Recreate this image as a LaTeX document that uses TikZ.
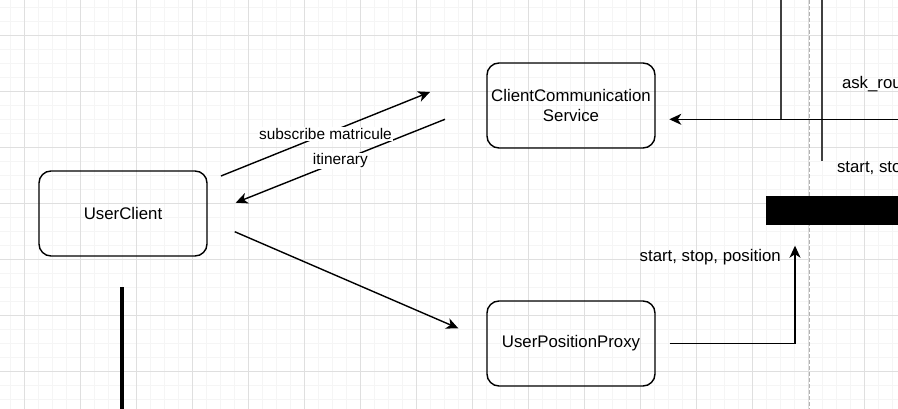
\documentclass[tikz,border=0pt]{standalone}
\usepackage{fontspec}
\setmainfont{Liberation Sans}
\usepackage{xcolor}
\usetikzlibrary{arrows.meta}
\usetikzlibrary{calc}
\usetikzlibrary{positioning}

\begin{document}
\begin{tikzpicture}[x=1pt,y=-1pt,-,node distance=238pt,semithick,>={Stealth[length=12pt,width=11pt,inset=3.5pt]}]
	\tikzstyle{box}=[draw, rounded corners=12pt, line width=1.4pt, minimum width=168pt, minimum height=85pt, align=center, font=\fontsize{16.8}{20.5}\selectfont]
	\tikzstyle{conn}=[->, line width=1.4pt]
	\tikzstyle{lbl}=[fill=white, inner sep=1pt, font=\fontsize{15.4}{18}\selectfont]
	\tikzstyle{txt}=[inner sep=0pt, font=\fontsize{16.8}{20}\selectfont]
	\tikzstyle{life}=[draw=black!75, line width=1.4pt]
	\useasboundingbox (0,0) rectangle (898,409);
	\clip (0,0) rectangle (898,409);
	% grid
	\foreach \x in {10.3,24.3,...,898}{
		\draw[gray!8, line width=0.9pt] (\x,0) -- (\x,409);
	}
	\foreach \y in {7,21,...,409}{
		\draw[gray!8, line width=0.9pt] (0,\y) -- (898,\y);
	}
	\foreach \x in {24.3,80.3,...,898}{
		\draw[gray!25, line width=0.9pt] (\x,0) -- (\x,409);
	}
	\foreach \y in {35,91,...,409}{
		\draw[gray!25, line width=0.9pt] (0,\y) -- (898,\y);
	}
	\draw[gray!60, line width=1pt, dash pattern=on 4pt off 2pt] (809,0) -- (809,409);

	\node[box] (UC) at (123,213.5) {UserClient};
	\node[box] (CCS) at (571,105.5) {ClientCommunication\\Service};
	\node[box] (UPP) [below of=CCS] {UserPositionProxy};
	\node[fill=black, inner sep=0pt, minimum width=160pt, minimum height=29pt, anchor=north west] (Bar) at (766,196) {};

	% lifeline below UserClient
	\draw[line width=4.2pt] (122.3,287) -- (122.3,415);

	\coordinate (subA) at (221,176);
	\coordinate (subB) at (430,92);
	\coordinate (itiA) at (445,119.3);
	\coordinate (itiB) at (235.7,202.7);
	\coordinate (posA) at (234.7,231.7);
	\coordinate (posB) at (458.3,328.3);
	\coordinate (upA) at ($(UPP.east)+(14,0)$);
	\coordinate (upB) at (795,245.7);
	\coordinate (askA) at (905,119.3);
	\coordinate (askB) at (669.3,119.3);
	\coordinate (lfA) at (781,-5);
	\coordinate (lfB) at (781,119.3);
	\coordinate (lgA) at (822,-5);
	\coordinate (lgB) at (822,161.3);

	\draw[conn] (subA) -- (subB);
	\draw[conn] (itiA) -- (itiB);
	\draw[conn] (posA) -- (posB);
	\draw[conn] (upA) -| (upB);
	\draw[life] (lfA) -- (lfB);
	\draw[life] (lgA) -- (lgB);
	\draw[conn] (askA) -- (askB);

	\node[lbl] (subL) at ($(subA)!.5!(subB)$) {subscribe matricule};
	\node[lbl] (itiL) at ($(itiA)!.5!(itiB)$) {itinerary};
	\node[txt, anchor=east] (upL) at (781,257) {start, stop, position};
	\node[txt, anchor=west] (askL) at (841.7,84) {ask\_rou};
	\node[txt, anchor=west] (stL) at (836.7,168.5) {start, sto};
\end{tikzpicture}
\end{document}
